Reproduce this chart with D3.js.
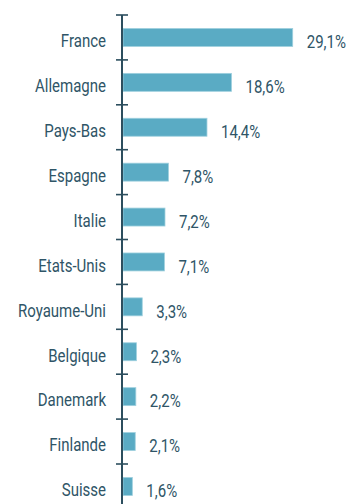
<!DOCTYPE html>
<html>
<head>
<meta charset="utf-8">
<script src="https://cdn.jsdelivr.net/npm/d3@7"></script>
<style>
  html, body { margin: 0; padding: 0; background: #ffffff; }
  svg { display: block; }
  text { font-family: Roboto, "Noto Sans", sans-serif; fill: #2f5567; }
</style>
</head>
<body>
<svg id="chart" width="347" height="504"></svg>
<script>
// Country shares (%)
const countries = ["France", "Allemagne", "Pays-Bas", "Espagne", "Italie", "Etats-Unis",
                   "Royaume-Uni", "Belgique", "Danemark", "Finlande", "Suisse"];
const shares = [29.1, 18.6, 14.4, 7.8, 7.2, 7.1, 3.3, 2.3, 2.2, 2.1, 1.6];
const shareLabels = ["29,1%", "18,6%", "14,4%", "7,8%", "7,2%", "7,1%",
                     "3,3%", "2,3%", "2,2%", "2,1%", "1,6%"];

const svg = d3.select("#chart");
const axisX = 122;
const plotTop = 15;
const step = 44.9;
const narrow = 0.79; // horizontal squeeze for a condensed look

const y = d3.scaleBand()
  .domain(countries)
  .range([plotTop, plotTop + step * countries.length])
  .paddingInner(0.6)
  .paddingOuter(0.3);

const x = d3.scaleLinear()
  .domain([0, 29.1])
  .range([axisX + 1, 292.7]);

const data = countries.map((c, i) => ({ country: c, value: shares[i], label: shareLabels[i] }));

// Bars
svg.append("g").selectAll("rect")
  .data(data)
  .join("rect")
  .attr("x", x(0))
  .attr("y", d => y(d.country))
  .attr("width", d => x(d.value) - x(0))
  .attr("height", y.bandwidth())
  .attr("fill", "#5aabc4")
  .attr("stroke", "#9fd0de")
  .attr("stroke-width", 0.8);

// Axis line with tick marks between categories
const axisColor = "#2c4e5e";
const g = svg.append("g");
g.append("line")
  .attr("x1", axisX).attr("x2", axisX)
  .attr("y1", plotTop).attr("y2", 504)
  .attr("stroke", axisColor).attr("stroke-width", 2);

const boundaries = d3.range(countries.length).map(i => plotTop + i * step);
g.selectAll("line.tick")
  .data(boundaries)
  .join("line")
  .attr("class", "tick")
  .attr("x1", axisX - 6).attr("x2", axisX + 6)
  .attr("y1", d => d).attr("y2", d => d)
  .attr("stroke", axisColor).attr("stroke-width", 1.6);

const mid = d => y(d.country) + y.bandwidth() / 2;

// Category labels
svg.append("g").selectAll("text")
  .data(data)
  .join("text")
  .attr("transform", d => `translate(106,${mid(d) + 9.8}) scale(${narrow},1)`)
  .attr("text-anchor", "end")
  .attr("font-size", 19)
  .text(d => d.country);

// Value labels
svg.append("g").selectAll("text")
  .data(data)
  .join("text")
  .attr("transform", d => `translate(${x(d.value) + 14},${mid(d) + 10.8}) scale(${narrow},1)`)
  .attr("text-anchor", "start")
  .attr("font-size", 19)
  .text(d => d.label);
</script>
</body>
</html>
